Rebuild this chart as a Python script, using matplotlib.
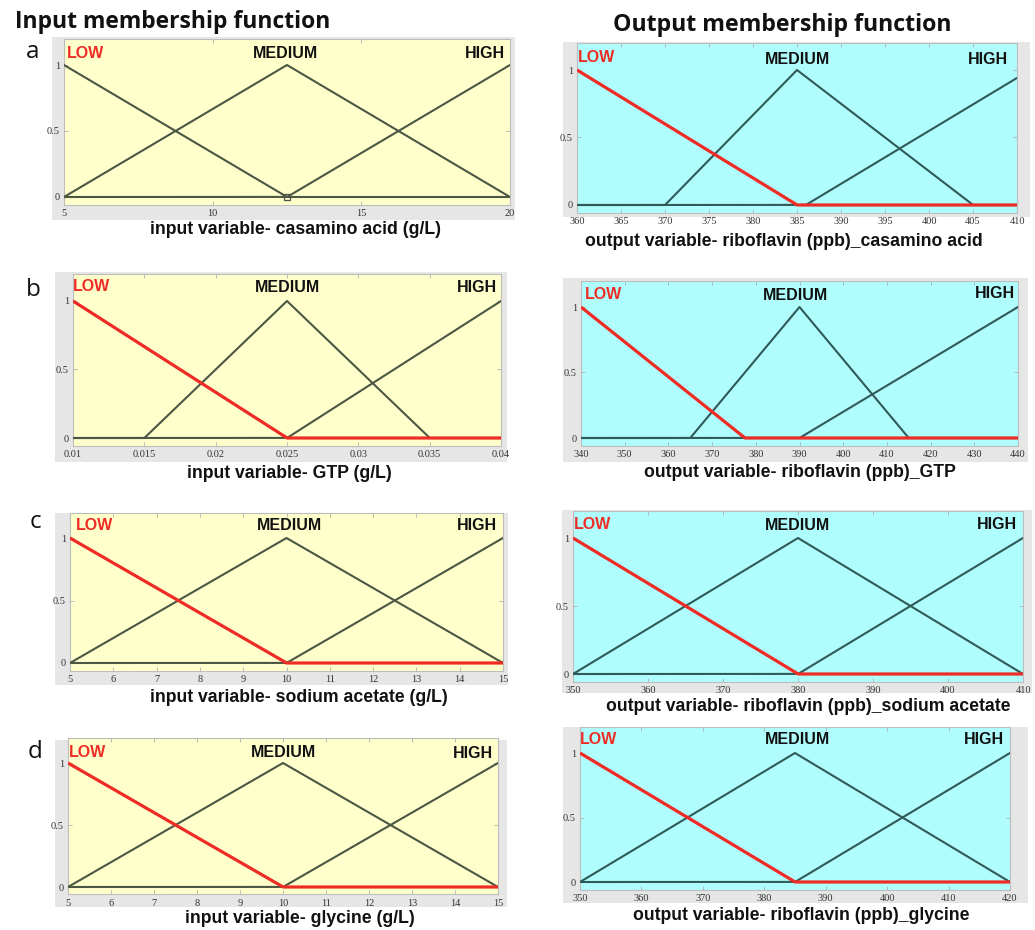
import numpy as np
import matplotlib
matplotlib.use("Agg")
import matplotlib.pyplot as plt
from matplotlib.patches import Rectangle

# ---------------------------------------------------------------------------
# Fuzzy membership functions (triangular: a, b, c)
# ---------------------------------------------------------------------------
mf_names = ["LOW", "MEDIUM", "HIGH"]

# Input variables
in_labels = ["input variable- casamino acid (g/L)",
             "input variable- GTP (g/L)",
             "input variable- sodium acetate (g/L)",
             "input variable- glycine (g/L)"]
in_ranges = [(5, 20), (0.01, 0.04), (5, 15), (5, 15)]
in_ticks = [[5, 10, 15, 20],
            [0.01, 0.015, 0.02, 0.025, 0.03, 0.035, 0.04],
            list(range(5, 16)),
            list(range(5, 16))]
in_tick_labels = [["5", "10", "15", "20"],
                  ["0.01", "0.015", "0.02", "0.025", "0.03", "0.035", "0.04"],
                  [str(v) for v in range(5, 16)],
                  [str(v) for v in range(5, 16)]]
in_low = [(5, 5, 12.5), (0.01, 0.01, 0.025), (5, 5, 10), (5, 5, 10)]
in_medium = [(5, 12.5, 20), (0.015, 0.025, 0.035), (5, 10, 15), (5, 10, 15)]
in_high = [(12.5, 20, 20), (0.025, 0.04, 0.04), (10, 15, 15), (10, 15, 15)]

# Output variable (riboflavin, ppb) for each input
out_labels = ["output variable- riboflavin (ppb)_casamino acid",
              "output variable- riboflavin (ppb)_GTP",
              "output variable- riboflavin (ppb)_sodium acetate",
              "output variable- riboflavin (ppb)_glycine"]
out_ranges = [(360, 410), (340, 440), (350, 410), (350, 420)]
out_ticks = [list(range(360, 411, 5)),
             list(range(340, 441, 10)),
             list(range(350, 411, 10)),
             list(range(350, 421, 10))]
out_low = [(360, 360, 385), (340, 340, 377.5), (350, 350, 380), (350, 350, 385)]
out_medium = [(370, 385, 405), (365, 390, 415), (350, 380, 410), (350, 385, 420)]
out_high = [(386, 411.5, 437), (390, 440, 440), (380, 410, 410), (385, 420, 420)]

panel_letters = ["a", "b", "c", "d"]

# ---------------------------------------------------------------------------
W, H = 1035, 930
fig = plt.figure(figsize=(W / 100, H / 100), dpi=100)
fig.patch.set_facecolor("white")

YLO, YHI = -0.06, 1.2
RED = "#ee2b24"
IN_LINE = "#4b5644"
OUT_LINE = "#2f5a58"
IN_BG = "#ffffcc"
OUT_BG = "#b0fdfd"
FRAME = "#e6e6e6"


def trimf(x, a, b, c):
    if b > a:
        rise = (x - a) / (b - a)
    else:
        rise = np.where(x >= a, 1.0, 0.0)
    if c > b:
        fall = (c - x) / (c - b)
    else:
        fall = np.where(x <= c, 1.0, 0.0)
    return np.clip(np.minimum(rise, fall), 0, 1)


def px_axes(x0, x1, y1px, y0px):
    """Axes whose data x-range spans x0..x1 px and y=1/y=0 sit at y1px/y0px."""
    unit = y0px - y1px
    top = y1px - (YHI - 1) * unit
    bot = y0px - YLO * unit
    return fig.add_axes([x0 / W, 1 - bot / H, (x1 - x0) / W, (bot - top) / H])


def frame(x0, y0, x1, y1):
    fig.patches.append(Rectangle((x0 / W, 1 - y1 / H), (x1 - x0) / W, (y1 - y0) / H,
                                 transform=fig.transFigure, facecolor=FRAME,
                                 edgecolor="none", zorder=-10))


def ftext(x, y, s, **kw):
    fig.text(x / W, 1 - y / H, s, **kw)


def draw_panel(ax, xr, ticks, tlabels, low, med, high, line_col, bg, low_red=True,
               marker_at=None):
    ax.set_facecolor(bg)
    x = np.linspace(xr[0], xr[1], 3001)
    x = np.unique(np.concatenate([x, [p for p in low + med + high
                                       if xr[0] <= p <= xr[1]]]))
    ax.plot(x, trimf(x, *med), color=line_col, lw=1.5, zorder=3)
    ax.plot(x, trimf(x, *high), color=line_col, lw=1.5, zorder=3)
    if low_red:
        ax.plot(x, trimf(x, *low), color=RED, lw=2.3, zorder=4,
                solid_capstyle="butt")
    else:
        ax.plot(x, trimf(x, *low), color=line_col, lw=1.5, zorder=3)
    if marker_at is not None:
        ax.plot([marker_at], [0], marker="s", ms=4, mfc="none", mec=line_col,
                mew=0.9, zorder=5)
    ax.set_xlim(*xr)
    ax.set_ylim(YLO, YHI)
    ax.set_xticks(ticks)
    ax.set_xticklabels(tlabels)
    ax.set_yticks([0, 0.5, 1])
    ax.set_yticklabels(["0", "0.5", "1"])
    ax.tick_params(direction="in", length=3, width=0.6, color="#b0b0b0",
                   top=True, right=True, labelsize=7.5, labelcolor="#333333", pad=3)
    for lab in ax.get_xticklabels() + ax.get_yticklabels():
        lab.set_family("Liberation Serif")
    for sp in ax.spines.values():
        sp.set_color("#bdbdbd")
        sp.set_linewidth(0.8)


# Pixel geometry of every panel: (x_left, x_right, y_of_1, y_of_0) and frame box
in_geom = [(64, 510, 65, 197), (73, 501, 301, 438), (70, 503, 538, 663), (68, 498, 763, 887)]
in_frames = [(52, 37, 515, 220), (55, 272, 507, 462), (55, 513, 508, 685), (55, 740, 507, 907)]
out_geom = [(577, 1017, 70, 205), (581, 1018, 307, 438), (573, 1023, 538, 674), (580, 1010, 753, 882)]
out_frames = [(563, 42, 1030, 217), (563, 278, 1028, 462), (562, 510, 1032, 693), (563, 727, 1028, 903)]

in_xlabel_pos = [(295, 230), (289, 473), (299, 698), (300, 918)]
out_xlabel_pos = [(784, 241), (800, 472), (808, 706), (801, 915)]

# MF name label positions: LOW (left edge), MEDIUM (center), HIGH (right edge)
in_name_pos = [((67, 53), (286, 54), (505, 54)),
               ((73, 286), (288, 287), (497, 287)),
               ((76, 526), (289, 526), (497, 526)),
               ((69, 752), (284, 752), (493, 753))]
out_name_pos = [((578, 57), (797, 60), (1008, 60)),
                ((585, 294), (796, 295), (1015, 293)),
                ((574, 524), (798, 526), (1017, 524)),
                ((580, 740), (797, 740), (1004, 740))]
letter_pos = [(33, 52), (33, 290), (35, 522), (35, 752)]

name_kw = dict(family="Liberation Sans", weight="bold", fontsize=11.5, va="center")
xlab_kw = dict(family="Liberation Sans", weight="bold", fontsize=12.7,
               ha="center", va="center", color="#111111")

for i in range(4):
    # input side
    frame(*in_frames[i])
    ax = px_axes(*in_geom[i])
    draw_panel(ax, in_ranges[i], in_ticks[i], in_tick_labels[i],
               in_low[i], in_medium[i], in_high[i], IN_LINE, IN_BG,
               low_red=(i != 0), marker_at=(in_medium[i][1] if i == 0 else None))
    ftext(*in_xlabel_pos[i], in_labels[i], **xlab_kw)
    (lx, ly), (mx, my), (hx, hy) = in_name_pos[i]
    ftext(lx, ly, mf_names[0], color=RED, ha="left", **name_kw)
    ftext(mx, my, mf_names[1], color="#111111", ha="center", **name_kw)
    ftext(hx, hy, mf_names[2], color="#111111", ha="right", **name_kw)
    ftext(*letter_pos[i], panel_letters[i], family="Open Sans", fontsize=17.5,
          ha="center", va="center", color="#111111")

    # output side
    frame(*out_frames[i])
    ax = px_axes(*out_geom[i])
    draw_panel(ax, out_ranges[i], out_ticks[i], [str(v) for v in out_ticks[i]],
               out_low[i], out_medium[i], out_high[i], OUT_LINE, OUT_BG)
    ftext(*out_xlabel_pos[i], out_labels[i], **xlab_kw)
    (lx, ly), (mx, my), (hx, hy) = out_name_pos[i]
    ftext(lx, ly, mf_names[0], color=RED, ha="left", **name_kw)
    ftext(mx, my, mf_names[1], color="#111111", ha="center", **name_kw)
    ftext(hx, hy, mf_names[2], color="#111111", ha="right", **name_kw)

ftext(15, 22, "Input membership function", family="Open Sans", weight="bold",
      fontsize=16.5, ha="left", va="center", color="#111111")
ftext(782, 25, "Output membership function", family="Open Sans", weight="bold",
      fontsize=16.7, ha="center", va="center", color="#111111")

fig.savefig("out.png", dpi=100, facecolor="white")
